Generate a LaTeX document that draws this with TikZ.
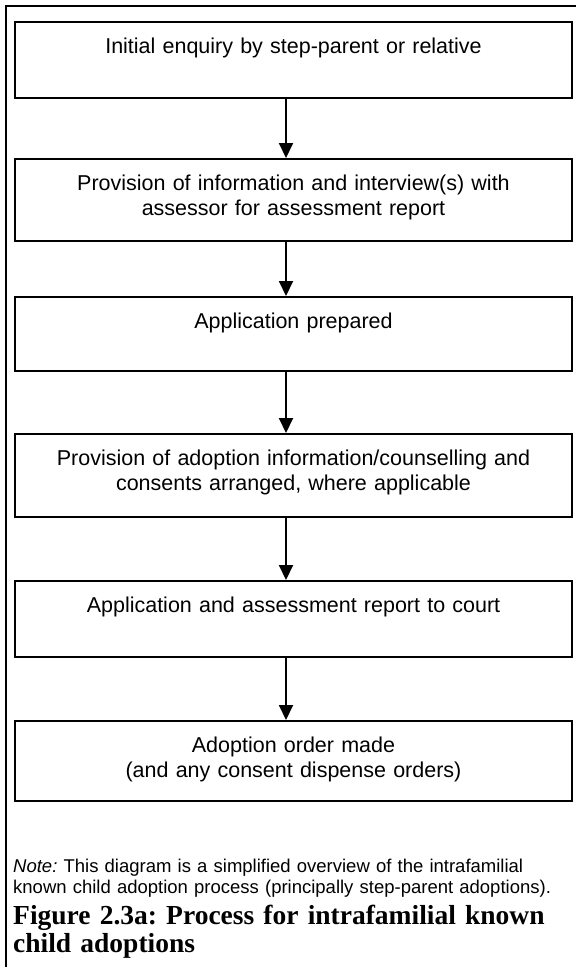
\documentclass[tikz,border=0pt]{standalone}
\usepackage{fontspec}
\setmainfont{Liberation Sans}
\newfontfamily\figfont{Liberation Serif}
\usetikzlibrary{arrows.meta, positioning}
\frenchspacing

\tikzset{
  stepbox/.style={draw, line width=1.5pt, anchor=north, minimum width=557pt,
    text width=540pt, align=center, inner xsep=0pt, inner ysep=0pt,
    font=\fontsize{21.5}{24.5}\selectfont, text height=32pt},
  flow/.style={-{Triangle[width=14pt,length=15pt]}, line width=2pt},
  frameline/.style={line width=2.4pt},
}

\begin{document}
\begin{tikzpicture}[x=1pt, y=-1pt]
  \useasboundingbox (0,0) rectangle (576,967);
  \draw[frameline] (6,967) -- (6,6) -- (576,6);

  % the steps
  \node[stepbox, text depth=44pt] (enquiry) at (293.5,21) {Initial enquiry by step-parent or relative};
  \node[stepbox, text depth=50pt] (interview) at (293.5,158) {Provision of information and interview(s) with\\ assessor for assessment report};
  \node[stepbox, text depth=42pt] (prepared) at (293.5,296) {Application prepared};
  \node[stepbox, text depth=51pt] (consents) at (293.5,433) {Provision of adoption information/counselling and\\ consents arranged, where applicable};
  \node[stepbox, text depth=44pt] (court) at (293.5,580) {Application and assessment report to court};
  \node[stepbox, text depth=48pt] (order) at (293.5,720) {Adoption order made\\ (and any consent dispense orders)};

  \coordinate (axis) at (286,0);
  \draw[flow] (enquiry.south -| axis) -- (interview.north -| axis);
  \draw[flow] (interview.south -| axis) -- (prepared.north -| axis);
  \draw[flow] (prepared.south -| axis) -- (consents.north -| axis);
  \draw[flow] (consents.south -| axis) -- (court.north -| axis);
  \draw[flow] (court.south -| axis) -- (order.north -| axis);

  % note and caption
  \node[anchor=base west, text width=550pt, align=left, inner sep=0pt,
    font=\fontsize{18.5}{21}\selectfont] (note) at (13,872)
    {\textit{Note:} This diagram is a simplified overview of the intrafamilial\\
     known child adoption process (principally step-parent adoptions).};
  \node[anchor=base west, text width=560pt, align=left, inner sep=0pt,
    font=\figfont\bfseries\fontsize{27.5}{28}\selectfont] (caption) at (13,924)
    {Figure 2.3a: Process for intrafamilial known\\ child adoptions};
\end{tikzpicture}
\end{document}
